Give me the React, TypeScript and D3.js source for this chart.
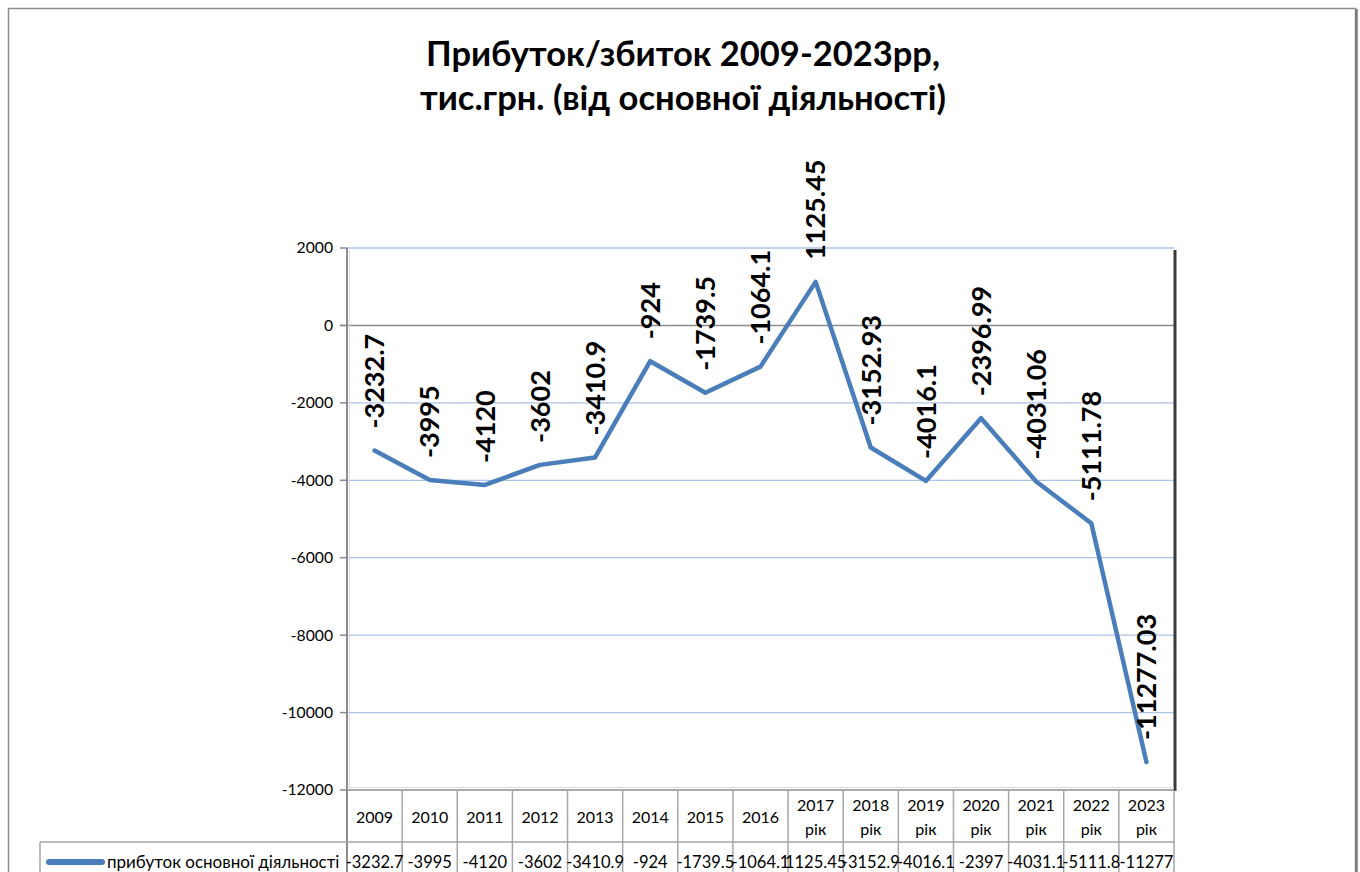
import React from 'react';
import * as d3 from 'd3';

// chart data
const years = ['2009', '2010', '2011', '2012', '2013', '2014', '2015', '2016', '2017', '2018', '2019', '2020', '2021', '2022', '2023'];
const yearSuffix = ['', '', '', '', '', '', '', '', 'рік', 'рік', 'рік', 'рік', 'рік', 'рік', 'рік'];
const profit = [-3232.7, -3995, -4120, -3602, -3410.9, -924, -1739.5, -1064.1, 1125.45, -3152.93, -4016.1, -2396.99, -4031.06, -5111.78, -11277.03];
const pointLabels = ['-3232.7', '-3995', '-4120', '-3602', '-3410.9', '-924', '-1739.5', '-1064.1', '1125.45', '-3152.93', '-4016.1', '-2396.99', '-4031.06', '-5111.78', '-11277.03'];
const tableValues = ['-3232.7', '-3995', '-4120', '-3602', '-3410.9', '-924', '-1739.5', '-1064.1', '1125.45', '-3152.9', '-4016.1', '-2397', '-4031.1', '-5111.8', '-11277'];
const yTicks = [2000, 0, -2000, -4000, -6000, -8000, -10000, -12000];
const seriesName = 'прибуток основної діяльності';
const titleLines = ['Прибуток/збиток 2009-2023рр,', 'тис.грн. (від основної діяльності)'];

const W = 1360;
const H = 872;
const plot = { left: 347, right: 1174, top: 248, bottom: 790 };
const lineColor = '#4a7ebb';
const font = 'Lato, "Open Sans", sans-serif';

export default function App() {
  const x = d3.scaleBand<string>().domain(years).range([plot.left, plot.right]);
  const y = d3.scaleLinear().domain([-12000, 2000]).range([plot.bottom, plot.top]);
  const cx = (i: number) => (x(years[i]) as number) + x.bandwidth() / 2;

  const line = d3.line<number>()
    .x((_, i) => cx(i))
    .y(d => y(d));

  const headerBottom = 842;

  return (
    <svg width={W} height={H} style={{ position: 'absolute', left: 0, top: 0, background: '#fff' }} fontFamily={font}>
      {/* outer frame */}
      <rect x={8.5} y={8.5} width={1347} height={H + 20} fill="#fff" stroke="#8c8c8c" strokeWidth={1.5} />
      <line x1={1356.5} x2={1356.5} y1={9} y2={H} stroke="#7a7a7a" strokeWidth={2.5} />

      {/* title */}
      {titleLines.map((t, i) => (
        <text key={i} x={683} y={66 + i * 44} textAnchor="middle" fontSize={34.5} fontWeight="bold" fill="#000">{t}</text>
      ))}

      {/* gridlines */}
      {yTicks.filter(t => t !== 0 && t !== -12000).map(t => (
        <line key={t} x1={plot.left} x2={plot.right} y1={y(t)} y2={y(t)} stroke="#adc2e8" strokeWidth={1.3} />
      ))}
      {/* zero line */}
      <line x1={plot.left - 7} x2={plot.right} y1={y(0)} y2={y(0)} stroke="#8c8c8c" strokeWidth={1.5} />

      {/* y axis */}
      <line x1={plot.left} x2={plot.left} y1={plot.top} y2={H} stroke="#8c8c8c" strokeWidth={2} />
      <line x1={plot.left + 2.5} x2={plot.left + 2.5} y1={plot.top + 2} y2={plot.bottom - 2} stroke="#dcdcdc" strokeWidth={1} />
      {yTicks.map(t => (
        <g key={t}>
          <line x1={plot.left - 7} x2={plot.left} y1={y(t)} y2={y(t)} stroke="#8c8c8c" strokeWidth={1.5} />
          <text x={333} y={y(t)} dy="0.35em" textAnchor="end" fontSize={15.7} fill="#000">{t}</text>
        </g>
      ))}

      {/* right shadow */}
      <line x1={plot.right + 1} x2={plot.right + 1} y1={plot.top + 2} y2={plot.bottom + 1} stroke="#3a3a3a" strokeWidth={3} />

      {/* bottom of plot */}
      <line x1={plot.left} x2={plot.right} y1={plot.bottom} y2={plot.bottom} stroke="#8c8c8c" strokeWidth={1.5} />
      <line x1={plot.left + 2} x2={plot.right} y1={plot.bottom - 2.5} y2={plot.bottom - 2.5} stroke="#dcdcdc" strokeWidth={1} />

      {/* series line */}
      <path d={line(profit) ?? ''} fill="none" stroke={lineColor} strokeWidth={4.5} strokeLinejoin="round" strokeLinecap="round" />

      {/* point labels */}
      {profit.map((v, i) => (
        <text key={i} transform={`translate(${cx(i)},${y(v) - 22}) rotate(-90)`} dy="0.36em" textAnchor="start" fontSize={27} fontWeight="bold" fill="#000">{pointLabels[i]}</text>
      ))}

      {/* data table */}
      {years.map((yr) => (
        <line key={yr} x1={(x(yr) as number) + x.bandwidth()} x2={(x(yr) as number) + x.bandwidth()} y1={plot.bottom} y2={H} stroke="#a6a6a6" strokeWidth={1.5} />
      ))}
      <line x1={40} x2={plot.right} y1={headerBottom} y2={headerBottom} stroke="#a6a6a6" strokeWidth={1.5} />
      <line x1={40} x2={40} y1={headerBottom} y2={H} stroke="#a6a6a6" strokeWidth={1.5} />
      {years.map((yr, i) => (
        yearSuffix[i] ? (
          <g key={yr}>
            <text x={cx(i)} y={805} dy="0.35em" textAnchor="middle" fontSize={16} fill="#000">{yr}</text>
            <text x={cx(i)} y={829} dy="0.35em" textAnchor="middle" fontSize={16} fill="#000">{yearSuffix[i]}</text>
          </g>
        ) : (
          <text key={yr} x={cx(i)} y={817} dy="0.35em" textAnchor="middle" fontSize={16} fill="#000">{yr}</text>
        )
      ))}
      {tableValues.map((v, i) => (
        <text key={i} x={cx(i)} y={862} dy="0.35em" textAnchor="middle" fontSize={16.5} fill="#000">{v}</text>
      ))}

      {/* legend key */}
      <line x1={49} x2={102} y1={862} y2={862} stroke={lineColor} strokeWidth={6} strokeLinecap="round" />
      <text x={107} y={862} dy="0.35em" fontSize={17} fill="#000">{seriesName}</text>
    </svg>
  );
}
